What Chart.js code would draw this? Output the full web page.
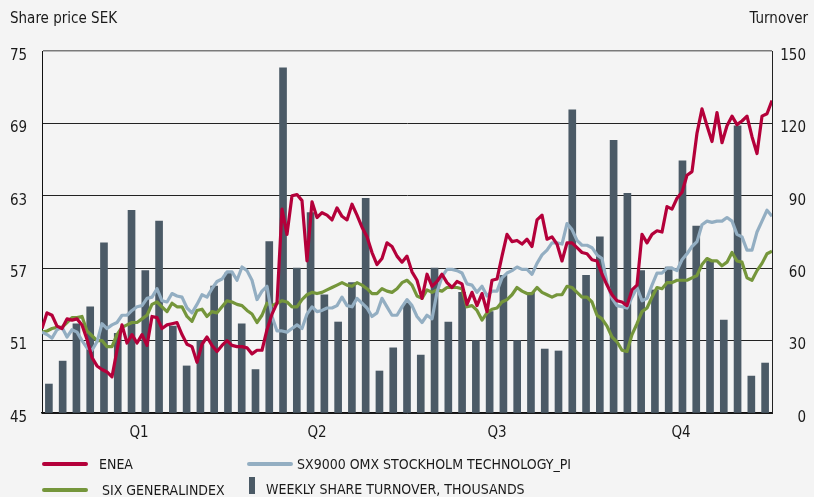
<!DOCTYPE html>
<html>
<head>
<meta charset="utf-8">
<script src="https://cdn.jsdelivr.net/npm/chart.js@4.4.1/dist/chart.umd.min.js"></script>
<style>
  html, body { margin: 0; padding: 0; background: #f4f4f4; }
  body {
    width: 814px; height: 497px; position: relative; overflow: hidden;
    font-family: "Liberation Sans Narrow", "DejaVu Sans Condensed", sans-serif;
    color: #1a1a1a;
  }
  #wrap { position: absolute; left: 0; top: 0; width: 814px; height: 497px; }
  .axis-title { position: absolute; top: 9px; font-size: 15px; }
  .legend { position: absolute; font-size: 14px; line-height: 14px; white-space: nowrap; }
  .swatch { position: absolute; height: 4px; width: 46px; border-radius: 2px; }
  .barsw { position: absolute; width: 6px; height: 17px; background: #4b5a66; }
</style>
</head>
<body>
<div id="wrap"><canvas id="chart" width="814" height="497"></canvas></div>

<div class="axis-title" style="left:10px;">Share price SEK</div>
<div class="axis-title" style="right:6px;">Turnover</div>

<div class="swatch" style="left:42px; top:462px; background:#b4003a;"></div>
<div class="legend" style="left:99px; top:457px;">ENEA</div>
<div class="swatch" style="left:247px; top:462px; background:#93aec2;"></div>
<div class="legend" style="left:297px; top:457px;">SX9000 OMX STOCKHOLM TECHNOLOGY_PI</div>
<div class="swatch" style="left:42px; top:488px; background:#75963b;"></div>
<div class="legend" style="left:102px; top:483px;">SIX GENERALINDEX</div>
<div class="barsw" style="left:249px; top:477px;"></div>
<div class="legend" style="left:266px; top:482px;">WEEKLY SHARE TURNOVER, THOUSANDS</div>

<script>
// weekly turnover, thousands of shares (53 weeks)
const weeks = ['1','2','3','4','5','6','7','8','9','10','11','12','13','14','15','16','17','18',
  '19','20','21','22','23','24','25','26','27','28','29','30','31','32','33','34','35','36',
  '37','38','39','40','41','42','43','44','45','46','47','48','49','50','51','52','53'];
const turnover = [12, 21.5, 37, 44, 70.5, 33, 84, 59, 79.5, 36, 19.5, 30, 52.6, 58, 37, 18, 71, 143,
  60, 83, 49, 37.7, 54, 89, 17.4, 27, 45.6, 24, 60, 37.7, 50, 30, 42, 57, 30, 50,
  26.5, 25.7, 125.6, 57, 73, 113, 91, 59, 51, 60.5, 104.5, 77.5, 63, 38.5, 119, 15.3, 20.7];

// share prices / index levels, sampled over the year
const enea = [52.0, 53.3, 53.1, 52.2, 52.0, 52.8, 52.7, 52.8, 52.3, 51.1,
  49.6, 48.9, 48.6, 48.4, 48.0, 50.2, 52.3, 50.8, 51.5, 50.8,
  51.5, 50.6, 53.0, 52.9, 52.0, 52.3, 52.4, 52.5, 51.5, 50.7,
  50.5, 49.2, 50.7, 51.3, 50.6, 50.1, 50.6, 51.0, 50.6, 50.5,
  50.5, 50.4, 49.9, 50.2, 50.2, 51.9, 53.2, 54.1, 61.9, 59.8,
  63.0, 63.1, 62.6, 57.6, 62.5, 61.2, 61.6, 61.4, 61.0, 62.0,
  61.3, 61.0, 62.3, 61.4, 60.4, 59.6, 58.3, 57.3, 57.8, 59.1,
  58.8, 58.0, 57.5, 58.0, 56.7, 56.0, 54.5, 56.5, 55.5, 55.9,
  56.5, 55.8, 55.4, 55.9, 55.7, 54.0, 55.0, 53.9, 54.9, 53.4,
  56.0, 56.1, 58.0, 59.8, 59.2, 59.3, 59.0, 59.4, 58.8, 61.0,
  61.4, 59.4, 59.6, 59.0, 57.6, 59.1, 59.1, 58.7, 58.3, 58.2,
  57.7, 57.6, 56.5, 55.6, 54.8, 54.3, 54.2, 53.9, 55.2, 55.6,
  59.8, 59.1, 59.8, 60.1, 60.0, 62.1, 61.9, 62.8, 63.3, 64.7,
  65.0, 68.2, 70.2, 68.8, 67.5, 69.9, 67.4, 68.8, 69.6, 68.9,
  69.2, 69.6, 67.9, 66.5, 69.6, 69.8, 70.9];
const sx9000 = [51.7, 51.5, 51.2, 51.9, 52.1, 51.3, 51.9, 51.7, 51.0, 50.4,
  50.2, 50.9, 52.4, 52.0, 52.3, 52.5, 53.1, 53.1, 53.5, 53.8,
  53.9, 54.5, 54.6, 55.3, 54.3, 54.2, 54.9, 54.7, 54.6, 53.7,
  53.3, 54.0, 54.8, 54.6, 55.3, 55.9, 56.1, 56.7, 56.7, 56.0,
  57.1, 56.8, 56.0, 54.4, 55.1, 55.5, 53.0, 51.8, 51.8, 51.7,
  52.0, 52.3, 52.0, 53.2, 53.8, 53.4, 53.5, 53.7, 53.7, 53.9,
  54.6, 53.9, 53.8, 54.5, 54.1, 53.7, 53.0, 53.3, 54.5, 53.8,
  53.1, 53.1, 53.8, 54.4, 53.9, 53.0, 52.5, 53.1, 52.8, 55.0,
  56.3, 56.9, 56.9, 56.8, 56.6, 55.7, 55.6, 55.0, 55.5, 54.7,
  55.1, 55.1, 56.2, 56.6, 56.8, 57.1, 56.9, 56.9, 56.5, 57.4,
  58.1, 58.5, 59.1, 59.1, 59.0, 60.7, 60.2, 59.3, 58.9, 58.9,
  58.7, 58.1, 57.8, 55.8, 54.5, 53.9, 53.8, 53.7, 54.6, 55.4,
  54.3, 54.5, 55.6, 56.6, 56.6, 57.0, 57.0, 56.8, 57.7, 58.2,
  58.8, 59.2, 60.6, 60.9, 60.8, 60.9, 60.9, 61.2, 60.9, 59.8,
  59.6, 58.5, 58.5, 60.0, 60.9, 61.8, 61.3];
const sixGeneral = [51.7, 51.8, 52.0, 52.1, 52.1, 52.5, 52.9, 52.9, 53.0, 51.8,
  51.4, 51.0, 51.0, 50.5, 50.5, 51.5, 52.1, 52.3, 52.5, 52.5,
  52.8, 53.1, 54.0, 54.2, 53.8, 53.4, 54.1, 53.8, 53.8, 53.0,
  52.6, 53.5, 53.6, 53.0, 53.4, 53.3, 53.8, 54.3, 54.2, 54.0,
  53.9, 53.5, 53.2, 52.5, 53.1, 54.1, 53.9, 54.1, 54.3, 54.2,
  53.8, 53.8, 54.4, 54.8, 55.0, 54.9, 55.0, 55.2, 55.4, 55.6,
  55.8, 55.6, 55.5, 55.8, 55.6, 55.3, 54.9, 54.9, 55.3, 55.1,
  55.0, 55.3, 55.8, 56.0, 55.6, 54.7, 54.5, 55.2, 55.0, 55.2,
  55.1, 55.4, 55.4, 55.4, 55.3, 53.8, 53.9, 53.5, 52.7, 53.3,
  53.6, 53.7, 54.2, 54.4, 54.8, 55.4, 55.1, 54.9, 54.9, 55.4,
  55.0, 54.8, 54.6, 54.8, 54.8, 55.5, 55.4, 55.0, 54.6, 54.6,
  54.2, 53.1, 52.8, 52.2, 51.3, 50.9, 50.2, 50.1, 51.5, 52.4,
  53.4, 53.7, 54.6, 55.4, 55.3, 55.8, 55.8, 56.0, 56.0, 56.0,
  56.2, 56.4, 57.3, 57.8, 57.6, 57.6, 57.2, 57.5, 58.3, 57.6,
  57.5, 56.2, 56.0, 56.8, 57.4, 58.2, 58.4];

const quarterLabels = ['Q1', 'Q2', 'Q3', 'Q4'];
const quarterDays = [19.4, 55, 91, 127.8];   // where each quarter label sits, in sample index

const FONT = '"Liberation Sans Narrow", "DejaVu Sans Condensed", sans-serif';
const lastDay = enea.length - 1;

function toPoints(values) {
  return values.map((v, i) => ({ x: i, y: v }));
}

function lineSet(label, values, color, order) {
  return {
    type: 'line',
    label,
    data: toPoints(values),
    xAxisID: 'xd',
    yAxisID: 'y',
    borderColor: color,
    borderWidth: 3.2,
    pointRadius: 0,
    tension: 0,
    borderJoinStyle: 'round',
    order
  };
}

// labels in the original sit a few px below their grid line:
// an empty first line pushes the number down by half a line height
const lowered = (value) => ['', String(value)];
const tickFont = { family: FONT, size: 15, lineHeight: '10px' };

new Chart(document.getElementById('chart'), {
  type: 'bar',
  data: {
    labels: weeks,
    datasets: [
      lineSet('ENEA', enea, '#b4003a', 1),
      lineSet('SX9000 OMX STOCKHOLM TECHNOLOGY_PI', sx9000, '#93aec2', 2),
      lineSet('SIX GENERALINDEX', sixGeneral, '#75963b', 3),
      {
        type: 'bar',
        label: 'WEEKLY SHARE TURNOVER, THOUSANDS',
        data: turnover,
        xAxisID: 'x',
        yAxisID: 'y2',
        backgroundColor: '#4b5a66',
        barThickness: 7,
        grouped: false,
        order: 4
      }
    ]
  },
  options: {
    responsive: false,
    animation: false,
    layout: { padding: { left: 10, right: 8, top: 51, bottom: 54 } },
    plugins: { legend: { display: false }, tooltip: { enabled: false } },
    scales: {
      x: { type: 'category', display: false, offset: true },
      xd: {
        type: 'linear',
        position: 'bottom',
        offset: false,
        min: 0,
        max: lastDay,
        grid: { display: false, drawTicks: false, offset: false },
        border: { display: true, color: '#111', width: 1.5 },
        afterBuildTicks: (axis) => { axis.ticks = quarterDays.map(v => ({ value: v })); },
        afterFit: (axis) => { axis.height = 30; },
        ticks: {
          autoSkip: false,
          maxRotation: 0,
          padding: 11,
          color: '#1a1a1a',
          font: { family: FONT, size: 15 },
          callback: (value, index) => quarterLabels[index]
        }
      },
      y: {
        position: 'left',
        min: 45,
        max: 75,
        afterFit: (axis) => { axis.width = 32; },
        ticks: {
          stepSize: 6,
          crossAlign: 'far',
          color: '#1a1a1a',
          font: tickFont,
          callback: lowered
        },
        grid: {
          drawTicks: false,
          color: (ctx) => ctx.tick && ctx.tick.value === 75 ? '#7a7a7a' : '#222',
          lineWidth: (ctx) => ctx.tick && ctx.tick.value === 75 ? 1.5 : 1
        },
        border: { display: true, color: '#111', width: 1 }
      },
      y2: {
        position: 'right',
        min: 0,
        max: 150,
        afterFit: (axis) => { axis.width = 34; },
        ticks: {
          stepSize: 30,
          crossAlign: 'far',
          color: '#1a1a1a',
          font: tickFont,
          callback: lowered
        },
        grid: { drawOnChartArea: false, drawTicks: false },
        border: { display: true, color: '#222', width: 1 }
      }
    }
  }
});
</script>
</body>
</html>
